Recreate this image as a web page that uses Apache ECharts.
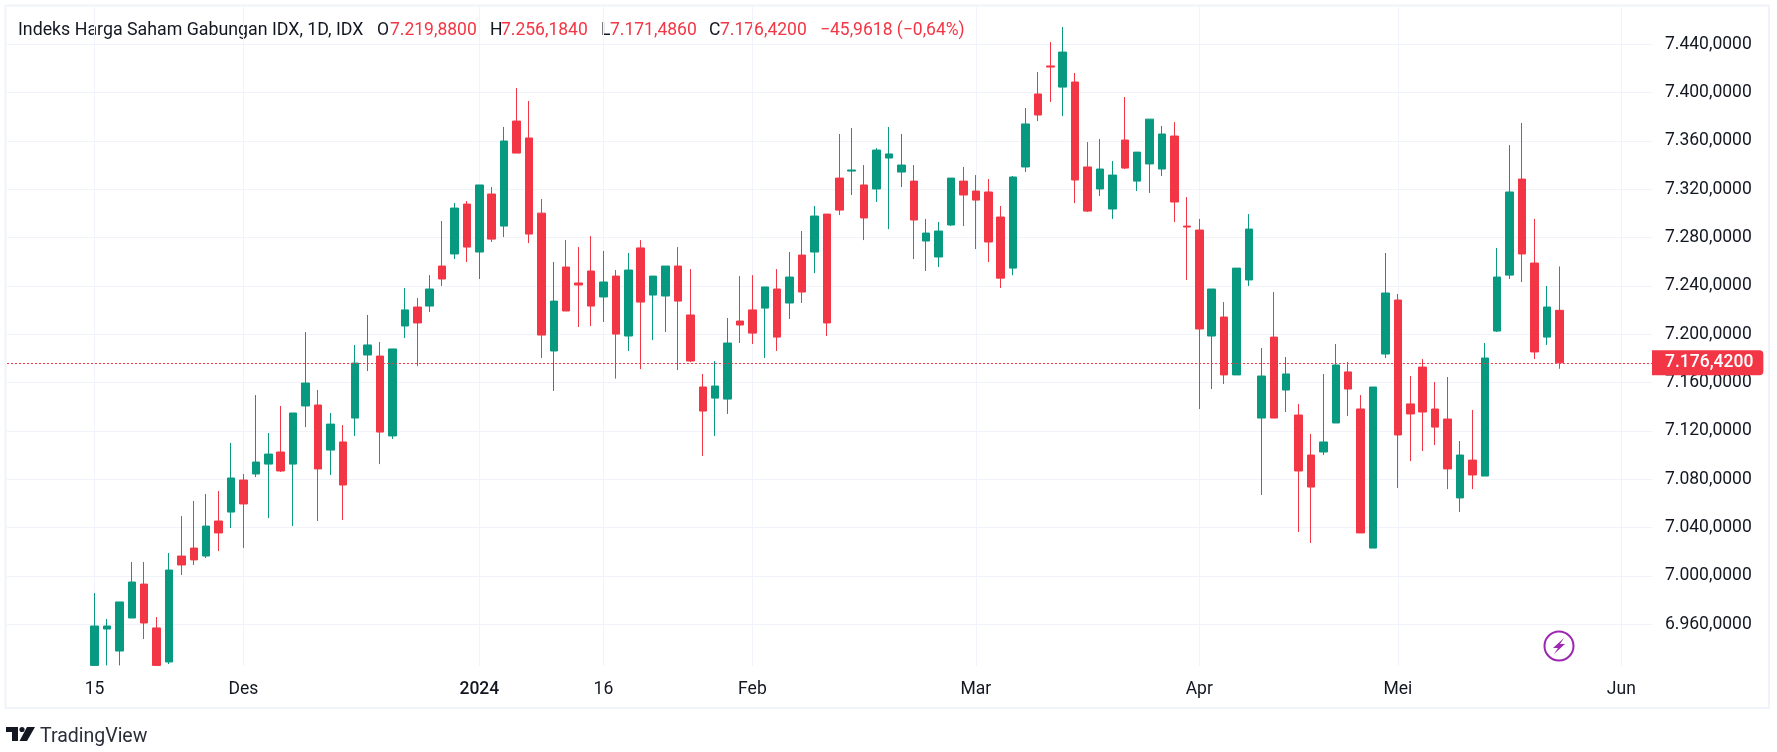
<!DOCTYPE html>
<html><head><meta charset="utf-8">
<style>html,body{margin:0;padding:0;background:#fff}#c{width:1777px;height:752px}</style>
<script src="https://cdn.jsdelivr.net/npm/echarts@6/dist/echarts.min.js"></script>
</head><body><div id="c"></div>
<script>
const opens=[6926,6956.1,6937.9,6965.2,6993.3,6957,6928.8,7016.5,7023.1,7016.5,7045.5,7052.9,7079.4,7084.4,7092.6,7102.6,7092.6,7140.7,7141.5,7104.2,7110.9,7130.7,7182.9,7182,7115.9,7206.9,7222.6,7223.4,7256.5,7266.5,7307.8,7268.1,7316.1,7289.6,7376.5,7362.5,7300.3,7186.2,7255.7,7242.5,7252.4,7230.9,7248.2,7198.6,7271.5,7232.5,7231.7,7256.5,7216,7156.4,7147.2,7146.4,7211,7220.2,7221.7,7237.5,7225.9,7265.6,7268.1,7299.5,7329.3,7335.1,7323.6,7320.3,7345.9,7334.3,7326.8,7277.2,7264,7290.5,7326.8,7318.6,7317.8,7297.1,7254.8,7338.5,7398.9,7422.1,7404.6,7408.8,7338.5,7320.3,7303.7,7360.8,7326.8,7341,7336.8,7364.1,7289.6,7286.3,7198.6,7214.3,7166.4,7245,7130.7,7197.7,7153.9,7133.2,7100.1,7102.6,7126.6,7168.9,7138.2,7023.1,7183.7,7228.4,7142.4,7172.9,7138.2,7129.9,7064.6,7095.9,7082.7,7202.7,7249,7328.5,7259,7197.7,7219.88];
const closes=[6958.6,6958.6,6978.5,6995,6961.1,6926,7004.9,7009.1,7013.3,7041.3,7035.6,7081.1,7059.6,7094.3,7100.9,7086.9,7134.9,7159.7,7088.6,7125.7,7075.3,7176.2,7191.2,7119.1,7187.9,7220.2,7209.4,7237.5,7245.8,7304.5,7272.2,7323.6,7278.8,7360,7350,7283,7199.4,7227.5,7219.3,7240.8,7223.4,7243.3,7200.2,7253.2,7226.7,7248.2,7256.5,7227.5,7177.9,7136.5,7157.2,7192.8,7207.7,7201,7239.2,7197.7,7247.4,7235,7297.9,7209.4,7302.8,7336,7296.3,7352.5,7349.3,7340.1,7294.6,7283.8,7285.5,7329.3,7315.3,7311.1,7276.4,7246.5,7330.2,7374.1,7381.5,7421.2,7433.6,7327.7,7302,7336.8,7331.8,7337.6,7350.8,7378.1,7365.8,7309.5,7288.8,7204.4,7237.5,7166.4,7254.8,7287.1,7165.5,7130.7,7167.2,7086.9,7073.6,7110.9,7174.6,7154.7,7035.6,7156.4,7234.2,7116.7,7134.1,7135.7,7123.2,7088.6,7100.1,7083.6,7180.4,7247.4,7317.8,7266.5,7185.4,7222.6,7176.42];
const lows=[6926,6926,6926,6965.2,6947.8,6926,6927.1,7000.8,7009.1,7014.8,7020.6,7039.7,7023.1,7081.9,7047.9,7086.1,7041.3,7123.2,7045.5,7083.6,7046.3,7115.9,7169.6,7092.6,7113.4,7196.9,7173.7,7218.5,7240,7262.3,7259.8,7245.8,7276.4,7280.5,7350,7275.5,7180.4,7153.1,7219.3,7206,7206.9,7210.2,7163.3,7186.2,7171.2,7195.2,7201.9,7170.4,7177,7099.3,7115.9,7134.1,7192.8,7192,7180.4,7186.2,7212.7,7225.9,7250.7,7198.6,7298.7,7315.3,7278,7309.5,7287.1,7321.9,7262.3,7252.4,7255.7,7289.6,7289.6,7270.6,7259.8,7238.3,7249,7334.3,7376.5,7392.3,7380.6,7308.6,7301.2,7314.5,7295.5,7336.8,7318.6,7317,7331,7293,7245,7138.2,7154.7,7158.9,7166.4,7240,7067,7130.7,7135.7,7036.4,7027.3,7100.1,7126.6,7132.4,7035.6,7023.1,7180.4,7072.8,7095.1,7103.4,7108.4,7071.9,7052.9,7071.9,7082.7,7201.9,7245.8,7243.3,7179.5,7191.2,7171.486];
const highs=[6985.9,6964.4,6978.5,7011.6,7011.6,6966,7019,7049.6,7062.1,7067.8,7070.3,7110.1,7084.4,7149.7,7118.3,7140.7,7134.9,7201.9,7153.9,7134.9,7124.9,7191.2,7216,7193.7,7187.9,7238.3,7230,7249,7293.8,7308.7,7310.3,7323.6,7321.9,7371.6,7403.8,7393.1,7312,7259.8,7278,7272.2,7281.3,7269,7253.2,7267.3,7278,7248.2,7256.5,7272.2,7254,7167.2,7177.9,7213.5,7248.2,7249,7239.2,7254,7268.1,7285.5,7306.2,7299.5,7365.8,7370.8,7340.1,7354.1,7371.6,7365.8,7340.1,7295.5,7293,7329.3,7338.5,7331.8,7328.5,7306.2,7331,7387.3,7417.1,7441.9,7454.3,7416.3,7359.1,7361.6,7343.4,7396.4,7350.8,7378.1,7372.4,7375.6,7313.6,7295.5,7237.5,7226.7,7254.8,7299.5,7188.7,7235,7181.2,7142.4,7117.5,7167.2,7192,7177,7149.7,7156.4,7267.3,7233.4,7165.5,7179.5,7160.5,7164.7,7111.7,7137.4,7192.8,7271.5,7356.6,7374.9,7295.5,7240,7256.184];
const dateTickIndex=[0,12,31,41,53,71,89,105,123];
const dateTickLabels=['15','Des','2024','16','Feb','Mar','Apr','Mei','Jun'];
const priceTicks=[6960,7000,7040,7080,7120,7160,7200,7240,7280,7320,7360,7400,7440];
const lastPrice=7176.42;
const FONT='Roboto';
const RED='#F23645',GREEN='#089981',INK='#131722',GRID='#F0F3FA';
function fmt(v){const s=v.toFixed(4).split('.');return s[0].replace(/\B(?=(\d{3})+$)/g,'.')+','+s[1];}
const ohlc=opens.map((o,i)=>[i,o,closes[i],lows[i],highs[i]]);
const headerParts=[
 ['Indeks Harga Saham Gabungan IDX, 1D, IDX',18,INK,17.8],
 ['O',377,INK,17.5],['7.219,8800',390,RED,17.5],
 ['H',490,INK,17.5],['7.256,1840',501,RED,17.5],
 ['L',601,INK,17.5],['7.171,4860',610,RED,17.5],
 ['C',709,INK,17.5],['7.176,4200',720,RED,17.5],
 ['\u221245,9618 (\u22120,64%)',820,RED,17.5]
];
const chart=echarts.init(document.getElementById('c'),null,{renderer:'canvas'});
chart.setOption({
 animation:false,backgroundColor:'#fff',
 grid:{left:7,right:125,top:7,bottom:86,containLabel:false},
 xAxis:{type:'value',min:-7.05,max:125.47,
  axisLine:{show:false},
  axisTick:{show:false,customValues:dateTickIndex},
  splitLine:{show:true,lineStyle:{color:GRID,width:1}},
  axisLabel:{customValues:dateTickIndex,margin:15,color:INK,fontFamily:FONT,fontSize:17.5,
   hideOverlap:false,
   formatter:v=>{const s=dateTickLabels[dateTickIndex.indexOf(v)];return s==='2024'?'{b|'+s+'}':s;},
   rich:{b:{fontFamily:FONT,fontSize:17.5,fontWeight:500,color:INK}}}},
 yAxis:{type:'value',position:'right',min:6925.5,max:7470.9,
  axisLine:{show:false},
  axisTick:{show:false,customValues:priceTicks},
  splitLine:{show:true,lineStyle:{color:GRID,width:1}},
  axisLabel:{customValues:priceTicks,margin:13,color:INK,fontFamily:FONT,fontSize:17.5,align:'left',padding:[0,0,3,0],
   showMinLabel:true,showMaxLabel:true,formatter:v=>fmt(v)}},
 series:[{type:'candlestick',data:ohlc,barWidth:8,clip:true,
  itemStyle:{color:GREEN,color0:RED,borderColor:GREEN,borderColor0:RED,borderWidth:1},
  markLine:{silent:true,symbol:'none',animation:false,
   lineStyle:{color:RED,type:[2,2],width:1},
   data:[{yAxis:lastPrice}],
   label:{show:true,position:'end',distance:0,formatter:()=>fmt(lastPrice),color:'#fff',backgroundColor:RED,
    fontFamily:FONT,fontSize:17.5,fontWeight:500,padding:[4,10,3,13],borderRadius:[0,4,4,0]}}}],
 graphic:[
  {type:'rect',silent:true,z:-1,shape:{x:5.5,y:5.5,width:1763.5,height:702.5},style:{fill:'none',stroke:GRID,lineWidth:2}},
  ...headerParts.map(p=>({type:'text',silent:true,x:p[1],y:31,style:{text:p[0],fill:p[2],font:p[3]+'px '+FONT,verticalAlign:'middle'}})),
  {type:'circle',silent:true,shape:{cx:1559,cy:646,r:14.5},style:{fill:'none',stroke:'#9C27B0',lineWidth:2}},
  {type:'polygon',silent:true,shape:{points:[[1564,638],[1553,648],[1558,648],[1554,654],[1565,644],[1560,644]]},style:{fill:'#9C27B0'}},
  {type:'polygon',silent:true,shape:{points:[[6,727],[18,727],[18,741],[12,741],[12,732],[6,732]]},style:{fill:'#131722'}},
  {type:'circle',silent:true,shape:{cx:22,cy:729.5,r:2.6},style:{fill:'#131722'}},
  {type:'polygon',silent:true,shape:{points:[[27,727],[35,727],[27,741],[19.5,741]]},style:{fill:'#131722'}},
  {type:'text',silent:true,x:40,y:737,style:{text:'TradingView',fill:'#2A2E39',font:'19.5px '+FONT,verticalAlign:'middle'}}
 ]
});
</script></body></html>
